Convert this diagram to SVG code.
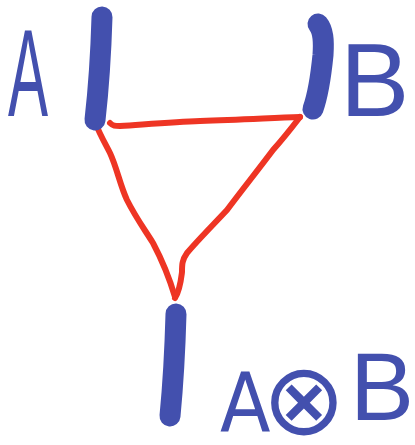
<svg xmlns="http://www.w3.org/2000/svg" width="415" height="445" viewBox="0 0 415 445">
<style>
.bar{fill:none;stroke:#4350AE;stroke-width:21;stroke-linecap:round;stroke-linejoin:round}
.wire{fill:none;stroke:#EE3524;stroke-width:6;stroke-linecap:round;stroke-linejoin:round}
.lbl{fill:#4350AE;font-family:"Liberation Sans",Arial,sans-serif}
</style>
<rect width="415" height="445" fill="#ffffff"/>
<g id="connectors">
<path class="wire" d="M95,122 C100,135 106,145 110,153 C117,168 120,185 127,200 C136,218 145,230 153,243 C162,260 170,280 175,297"/>
<path class="wire" d="M110,123 C113,126 115,126 120,126 C150,124 175,122 200,121 C240,120 270,118 300,117"/>
<path class="wire" d="M300,117 C290,130 282,140 273,150 C258,170 242,190 227,210 C212,226 198,240 187,253 C182,260 182,265 182,272 C181,280 180,290 175,298"/>
</g>
<g id="nodeA">
<path class="bar" d="M102,17 C101,50 99,85 95,120"/>
<text class="lbl" font-size="100" transform="translate(8,116) scale(0.6,1.25)">A</text>
</g>
<g id="nodeB">
<path class="bar" d="M318,24 C323,30 324,40 323,55 C321,75 318,95 313,109"/>
<text class="lbl" font-size="104" x="340" y="116">B</text>
</g>
<g id="nodeAB">
<path class="bar" d="M176,314 C175,350 173,385 170,416"/>
<text class="lbl" font-size="82"><tspan x="220" y="431" style="font-family:'DejaVu Sans Condensed','DejaVu Sans',sans-serif;font-stretch:condensed">A</tspan><tspan x="262" y="434" style="font-family:'DejaVu Sans',sans-serif;font-weight:300" font-size="100">⊗</tspan><tspan x="350" y="420" font-size="96">B</tspan></text>
</g>
</svg>
